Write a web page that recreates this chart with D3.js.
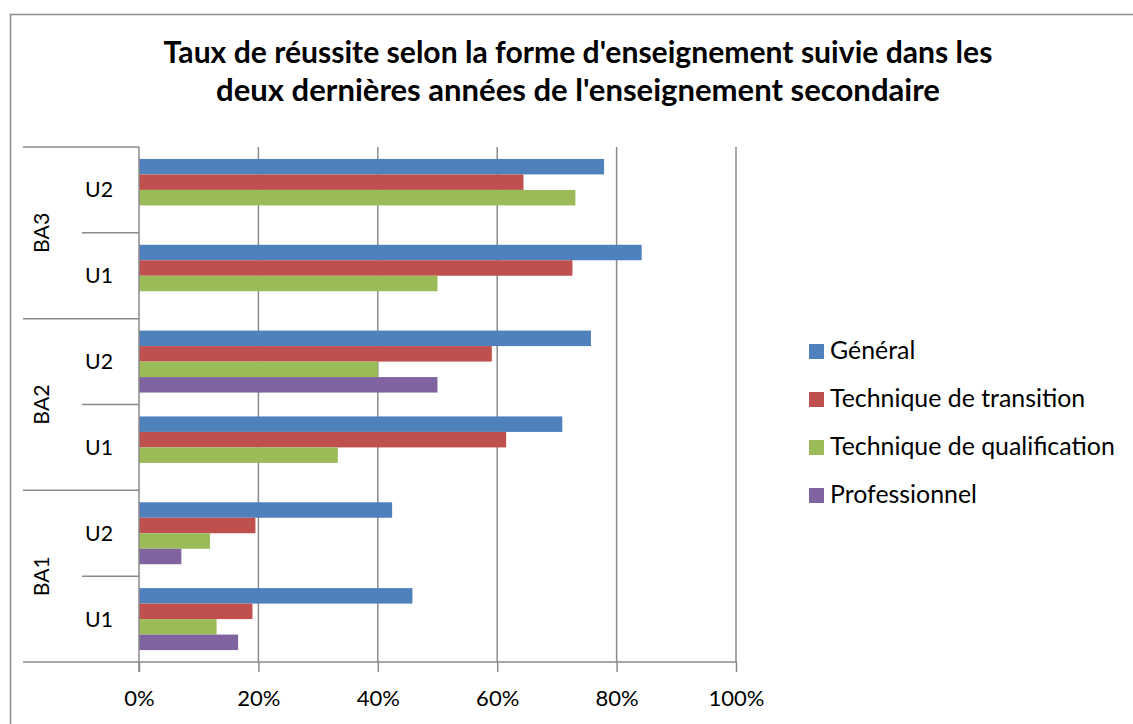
<!DOCTYPE html>
<html>
<head>
<meta charset="utf-8">
<script src="https://cdn.jsdelivr.net/npm/d3@7"></script>
<style>
  body { margin: 0; background: #fff; }
  svg { display: block; font-family: Lato, "Open Sans", sans-serif; }
</style>
</head>
<body>
<div id="chart"></div>
<script>
// Data
const groups = ["BA3", "BA2", "BA1"];           // top to bottom
const subs = ["U2", "U1"];                      // top to bottom inside a group
const seriesNames = ["Général", "Technique de transition", "Technique de qualification", "Professionnel"];
const seriesColors = ["#4F81BD", "#C0504D", "#9BBB59", "#8064A2"];
// values in the order BA3-U2, BA3-U1, BA2-U2, BA2-U1, BA1-U2, BA1-U1
const general       = [77.9, 84.2, 75.7, 70.9, 42.4, 45.8];
const transition    = [64.4, 72.6, 59.1, 61.5, 19.5, 19.0];
const qualification = [73.1, 50.0, 40.0, 33.3, 11.9, 13.0];
const professionnel = [null, null, 50.0, null, 7.1, 16.6];
const xTicks = [0, 20, 40, 60, 80, 100];

const width = 1133, height = 724;
const plotLeft = 139, plotRight = 736, plotTop = 147, plotBottom = 662;
const allSeries = [general, transition, qualification, professionnel];

const svg = d3.select("#chart").append("svg").attr("width", width).attr("height", height);

// font size that makes a sample string as wide as in the picture (Calibri -> Lato)
function fitSize(sample, target, weight) {
  let t = svg.append("text").text(sample).attr("font-size", 20).attr("font-weight", weight || "normal");
  let w = t.node().getComputedTextLength();
  t.remove();
  return 20 * target / w;
}
const legendSize = fitSize("Technique de qualification", 285);
const tickSize = fitSize("100%", 56);
const catSize = fitSize("U2", 28);

// chart border (only top and left are visible in the frame)
svg.append("rect").attr("x", 10.5).attr("y", 14.5).attr("width", 1140).attr("height", 740)
  .attr("fill", "none").attr("stroke", "#8c8c8c").attr("stroke-width", 1.5);

// Title
const titleLines = ["Taux de réussite selon la forme d'enseignement suivie dans les",
                    "deux dernières années de l'enseignement secondaire"];
const titleWidths = [829, 724];
titleLines.forEach(function(t, i) {
  svg.append("text").text(t)
    .attr("x", 578).attr("y", 63 + i * 38)
    .attr("text-anchor", "middle")
    .attr("font-weight", "bold")
    .attr("font-size", fitSize(t, titleWidths[i], "bold"))
    .attr("fill", "#000");
});

// Scales
const cats = [];
groups.forEach(g => subs.forEach(s => cats.push(g + "|" + s)));
const x = d3.scaleLinear().domain([0, 100]).range([plotLeft, plotRight]);
const y = d3.scaleBand().domain(cats).range([plotTop, plotBottom]);
const yInner = d3.scaleBand().domain(d3.range(4)).range([0, y.bandwidth()]).paddingOuter(0.77);
const yGroup = d3.scaleBand().domain(groups).range([plotTop, plotBottom]);

// Gridlines
svg.append("g").selectAll("line").data(xTicks.slice(1)).enter().append("line")
  .attr("x1", d => x(d)).attr("x2", d => x(d))
  .attr("y1", plotTop).attr("y2", plotBottom)
  .attr("stroke", "#8a8a8a").attr("stroke-width", 1.5);

// Bars
allSeries.forEach(function(vals, si) {
  svg.append("g").selectAll("rect")
    .data(vals.map((v, i) => ({v: v, c: cats[i]})).filter(d => d.v != null))
    .enter().append("rect")
    .attr("x", x(0))
    .attr("y", d => y(d.c) + yInner(si))
    .attr("width", d => x(d.v) - x(0))
    .attr("height", yInner.bandwidth())
    .attr("fill", seriesColors[si]);
});

// X axis
const xAxis = d3.axisBottom(x).tickValues(xTicks).tickFormat(d => d + "%").tickSize(10).tickPadding(7);
const gx = svg.append("g").attr("transform", "translate(0," + plotBottom + ")").call(xAxis);
gx.select(".domain").remove();
gx.selectAll("line").attr("stroke", "#8a8a8a").attr("stroke-width", 1.5);
gx.selectAll("text").attr("font-size", tickSize).attr("fill", "#000")
  .attr("font-family", "Lato, sans-serif").attr("dy", null).attr("y", 44);
svg.append("line").attr("x1", 23).attr("x2", plotRight + 0.75).attr("y1", plotBottom).attr("y2", plotBottom)
  .attr("stroke", "#8a8a8a").attr("stroke-width", 1.5);

// Y axis line
svg.append("line").attr("x1", plotLeft).attr("x2", plotLeft).attr("y1", plotTop).attr("y2", plotBottom + 10)
  .attr("stroke", "#8a8a8a").attr("stroke-width", 1.5);

// Multi-level category separators and labels
groups.forEach(function(g) {
  svg.append("line").attr("x1", 23).attr("x2", plotLeft).attr("y1", yGroup(g)).attr("y2", yGroup(g))
    .attr("stroke", "#8a8a8a").attr("stroke-width", 1.5);
  svg.append("line").attr("x1", 82).attr("x2", plotLeft)
    .attr("y1", y(g + "|U1")).attr("y2", y(g + "|U1"))
    .attr("stroke", "#8a8a8a").attr("stroke-width", 1.5);
  svg.append("text").text(g)
    .attr("transform", "translate(49," + (yGroup(g) + yGroup.bandwidth() / 2) + ") rotate(-90)")
    .attr("text-anchor", "middle")
    .attr("font-size", catSize).attr("fill", "#000");
});
cats.forEach(function(c) {
  svg.append("text").text(c.split("|")[1])
    .attr("x", 99).attr("y", y(c) + y.bandwidth() / 2 + 7.5)
    .attr("text-anchor", "middle")
    .attr("font-size", catSize).attr("fill", "#000");
});

// Legend
const legend = svg.append("g").selectAll("g").data(seriesNames).enter().append("g")
  .attr("transform", (d, i) => "translate(809," + (344 + i * 48) + ")");
legend.append("rect").attr("width", 15).attr("height", 15).attr("fill", (d, i) => seriesColors[i]);
legend.append("text").text(d => d).attr("x", 21).attr("y", 14.5)
  .attr("font-size", legendSize).attr("fill", "#000");
</script>
</body>
</html>
